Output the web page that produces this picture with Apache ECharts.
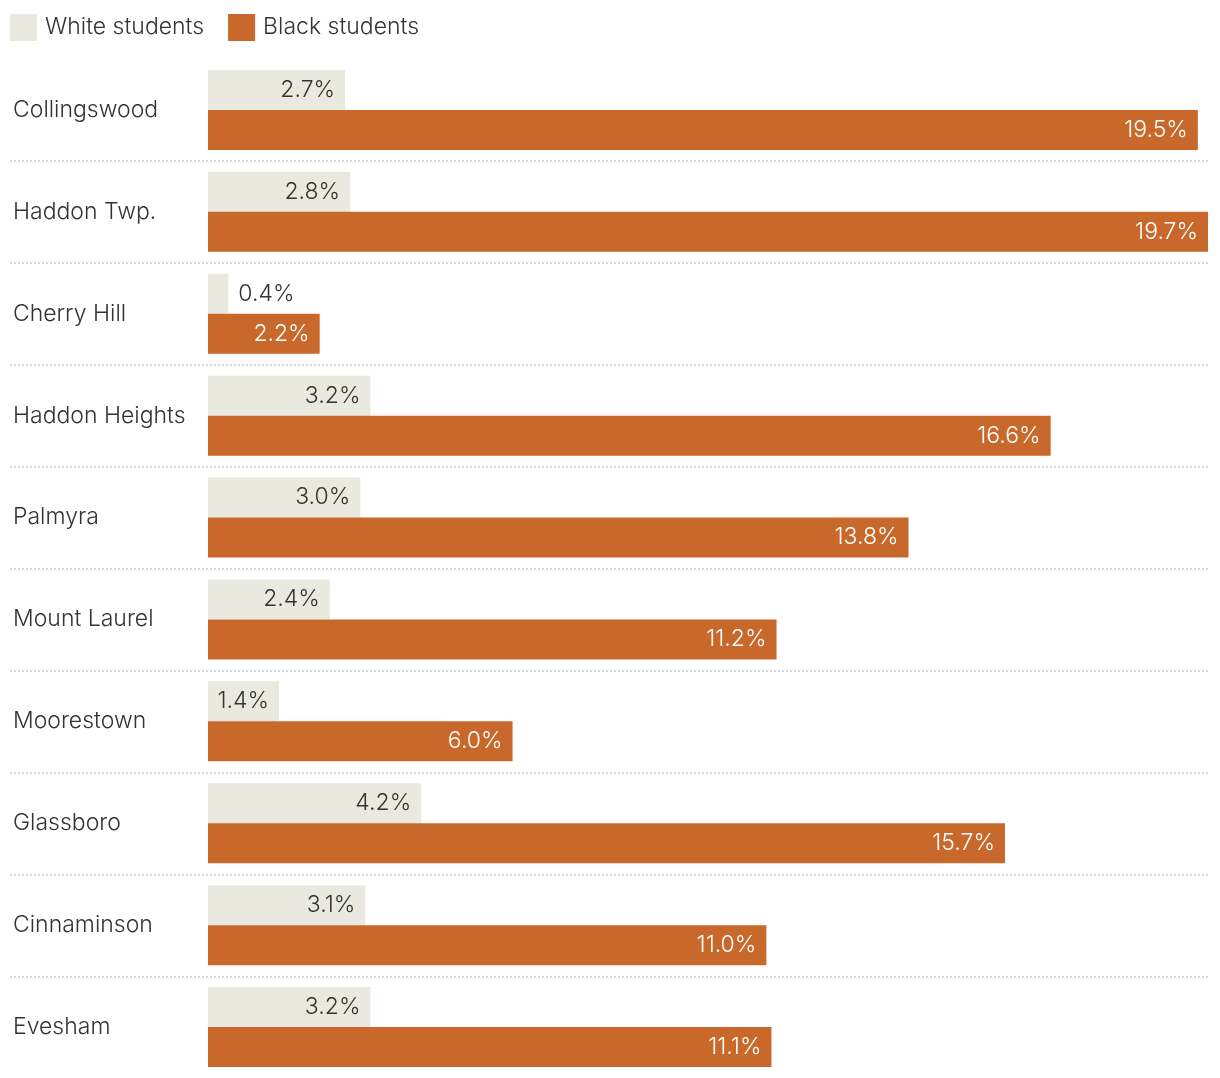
<!DOCTYPE html>
<html>
<head>
<meta charset="utf-8">
<script src="https://cdn.jsdelivr.net/npm/echarts@6/dist/echarts.min.js"></script>
<style>
html,body{margin:0;padding:0;background:#fff;}
#chart{width:1220px;height:1078px;}
</style>
</head>
<body>
<div id="chart"></div>
<script>
const categories = ["Collingswood","Haddon Twp.","Cherry Hill","Haddon Heights","Palmyra","Mount Laurel","Moorestown","Glassboro","Cinnaminson","Evesham"];
const whiteStudents = [2.7, 2.8, 0.4, 3.2, 3.0, 2.4, 1.4, 4.2, 3.1, 3.2];
const blackStudents = [19.5, 19.7, 2.2, 16.6, 13.8, 11.2, 6.0, 15.7, 11.0, 11.1];
const seriesNames = ["White students", "Black students"];

const FONT = "Inter";
const FW = 300;
const FS = 23;
const fmt = p => p.value.toFixed(1) + '%';
const maxVal = Math.max(...whiteStudents, ...blackStudents);

const chart = echarts.init(document.getElementById('chart'));
chart.setOption({
  animation: false,
  textStyle: {fontFamily: FONT, fontWeight: FW},
  legend: {
    left: 10, top: 14, padding: 0,
    icon: 'rect', itemWidth: 27, itemHeight: 27, itemGap: 24,
    textStyle: {fontSize: FS, color: '#333', fontFamily: FONT, fontWeight: FW, padding: [3,0,0,3]},
    data: seriesNames
  },
  grid: [
    {left: 208, right: 12, top: 59, height: 1020, containLabel: false},
    {left: 10, right: 12, top: 161, height: 816, containLabel: false}
  ],
  xAxis: [
    {type: 'value', min: 0, max: maxVal, show: false, gridIndex: 0},
    {type: 'value', min: 0, max: 1, show: false, gridIndex: 1}
  ],
  yAxis: [
    {
      type: 'category', data: categories, inverse: true, gridIndex: 0,
      axisLine: {show: false}, axisTick: {show: false}, splitLine: {show: false},
      axisLabel: {align: 'left', margin: 195, fontSize: FS, color: '#333', fontFamily: FONT, fontWeight: FW}
    },
    {
      type: 'category', data: categories.slice(1, 9), inverse: true, gridIndex: 1,
      axisLine: {show: false}, axisTick: {show: false}, axisLabel: {show: false},
      splitLine: {show: true, lineStyle: {color: '#d6d6d6', width: 2, type: [2, 2]}}
    }
  ],
  series: [
    {
      name: seriesNames[0], type: 'bar', xAxisIndex: 0, yAxisIndex: 0,
      barWidth: 40, barGap: '0%',
      itemStyle: {color: '#EAE9E0'},
      label: {show: true, position: 'insideRight', distance: 10, color: '#333', fontSize: FS, fontFamily: FONT, fontWeight: FW, formatter: fmt},
      data: whiteStudents.map(v => v < 1 ? {value: v, label: {position: 'right', distance: 10}} : v)
    },
    {
      name: seriesNames[1], type: 'bar', xAxisIndex: 0, yAxisIndex: 0,
      barWidth: 40, barGap: '0%',
      itemStyle: {color: '#C9682B'},
      label: {show: true, position: 'insideRight', distance: 10, color: '#fff', fontSize: FS, fontFamily: FONT, fontWeight: FW, formatter: fmt},
      data: blackStudents
    }
  ]
});
</script>
</body>
</html>
